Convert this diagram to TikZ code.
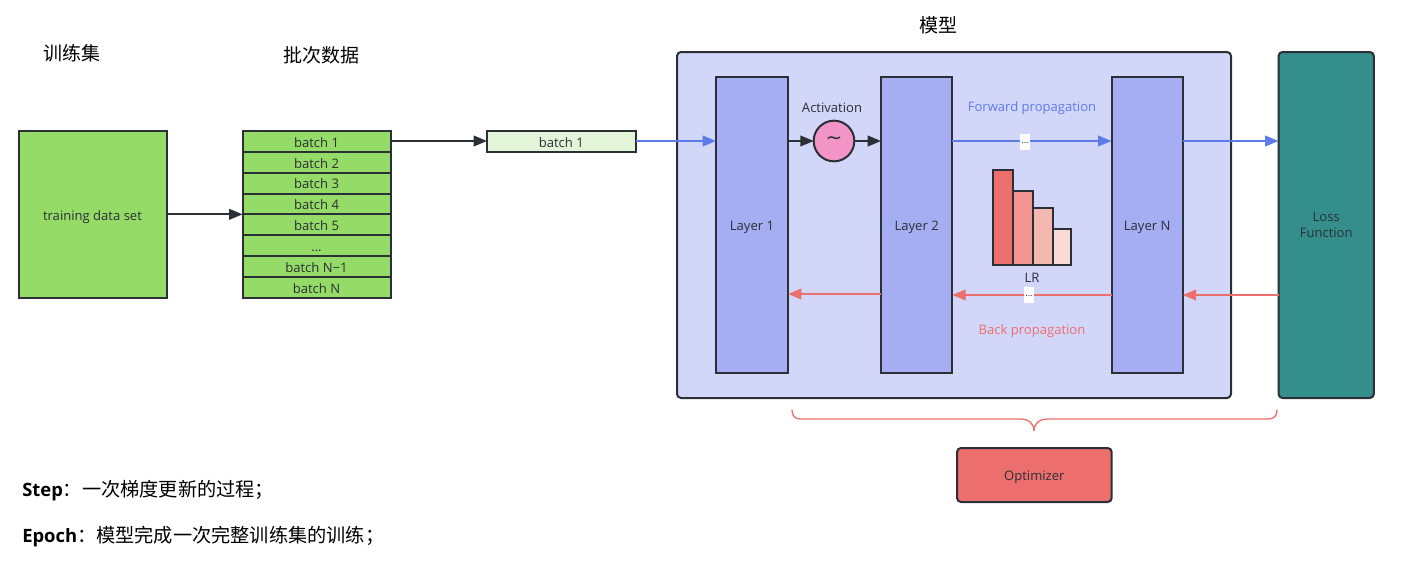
\documentclass[tikz,border=0pt]{standalone}
\usepackage{fontspec}
\setmainfont{Open Sans}
\newfontfamily\cjk{Noto Sans CJK SC}
\newfontfamily\sym{DejaVu Sans}
\usetikzlibrary{arrows.meta}
\definecolor{ink}{HTML}{2B2F36}
\definecolor{grn}{HTML}{95DB67}
\definecolor{lgrn}{HTML}{E3F5D8}
\definecolor{modelbg}{HTML}{D2D6F8}
\definecolor{layerc}{HTML}{A5AEF2}
\definecolor{tealc}{HTML}{338E8C}
\definecolor{pinkc}{HTML}{F295C6}
\definecolor{bluec}{HTML}{5E7CE8}
\definecolor{redc}{HTML}{EC6F6D}
\definecolor{bar2}{HTML}{F29490}
\definecolor{bar3}{HTML}{F5B8B1}
\definecolor{bar4}{HTML}{FBD9D4}
\newcommand\threedots{...}
\tikzset{
  x=0.75pt,y=-0.75pt,
  box/.style={draw=ink,line width=1.5pt,anchor=north west,inner sep=0pt,outer sep=0pt,text=ink,font=\fontsize{9.8}{12}\selectfont,align=center},
  tbox/.style={box,text height=8.6pt,text depth=0pt},
  rbox/.style={box,rounded corners=3pt},
  lab/.style={inner sep=0pt,font=\fontsize{9.8}{12}\selectfont,text=ink},
  title/.style={inner sep=0pt,font=\cjk\fontsize{14.25}{17}\selectfont,text=black},
  note/.style={inner sep=0pt,anchor=west,font=\fontsize{13.8}{17}\selectfont,text=black},
  bar/.style={box,line width=1.3pt},
  dots/.style={fill=white,inner sep=0pt,minimum width=7.5pt,minimum height=12pt,text=ink,font=\fontsize{7}{7}\selectfont},
  arr/.style={-{Triangle[length=10pt,width=8pt]},line width=1.3pt,ink},
  barr/.style={arr,bluec},
  rarr/.style={arr,redc},
}
\begin{document}
\begin{tikzpicture}
\useasboundingbox (0,0) rectangle (1404,571);
\node[title] (t1) at (72,53) {训练集};
\node[title] (t2) at (321,55) {批次数据};
\node[title] (t3) at (938,25) {模型};
\node[tbox,fill=grn,minimum width=111pt,minimum height=125pt] (train) at (18.5,131) {training data set};
\foreach \i/\t in {0/batch 1,1/batch 2,2/batch 3,3/batch 4,4/batch 5,5/\threedots,6/batch N−1,7/batch N}{
  \node[tbox,fill=grn,minimum width=111pt,minimum height=15.65pt] (r\i) at (242.5,{131+\i*20.87}) {\t};
}
\node[tbox,fill=lgrn,minimum width=111.5pt,minimum height=15.4pt] (single) at (487,131) {batch 1};
\node[rbox,fill=modelbg,minimum width=415.5pt,minimum height=259.5pt] (model) at (677,52) {};
\node[rbox,fill=tealc,minimum width=71.5pt,minimum height=259.5pt] (loss) at (1278.5,52) {\color{ink}Loss\\Function};
\node[tbox,fill=layerc,minimum width=54pt,minimum height=222pt] (l1) at (716,77) {Layer 1};
\node[tbox,fill=layerc,minimum width=53.5pt,minimum height=222pt] (l2) at (881,77) {Layer 2};
\node[tbox,fill=layerc,minimum width=53.5pt,minimum height=222pt] (ln) at (1111.5,77) {Layer N};
\node[draw=ink,line width=1.5pt,fill=pinkc,circle,minimum size=30.5pt,inner sep=0pt,outer sep=0pt,text=ink,font=\sym\fontsize{15}{15}\selectfont] (act) at (834,141) {∼};
\node[lab] (actl) at (832,108) {Activation};
\node[lab,text=bluec] (fwd) at (1032,108.5) {Forward propagation};
\node[lab,text=redc] (back) at (1032,331.5) {Back propagation};
\node[lab] (lr) at (1032,278) {LR};
\node[bar,fill=redc,minimum width=15pt,minimum height=71.25pt] (b1) at (993,170) {};
\node[bar,fill=bar2,minimum width=15pt,minimum height=55.5pt] (b2) at (1013,191) {};
\node[bar,fill=bar3,minimum width=15pt,minimum height=42.75pt] (b3) at (1033,208) {};
\node[bar,fill=bar4,minimum width=13.5pt,minimum height=27pt] (b4) at (1053,229) {};
\node[rbox,tbox,fill=redc,minimum width=116pt,minimum height=40.5pt] (opt) at (957,448) {Optimizer};
\coordinate (fy) at (0,141);
\coordinate (ry) at (0,295);
\coordinate (ry2) at (0,294);
\draw[arr] (train.east) -- (train.east -| r0.west);
\draw[arr] (r0.east |- fy) -- (single.west |- fy);
\draw[barr] (single.east |- fy) -- (l1.west |- fy);
\draw[arr] (l1.east |- act.west) -- (act.west);
\draw[arr] (act.east) -- (act.east -| l2.west);
\draw[barr] (l2.east |- fy) -- (ln.west |- fy);
\draw[barr] (ln.east |- fy) -- (loss.west |- fy);
\draw[rarr] (loss.west |- ry) -- (ln.east |- ry);
\draw[rarr] (ln.west |- ry) -- (l2.east |- ry);
\draw[rarr] (l2.west |- ry2) -- (l1.east |- ry2);
\node[dots] (d1) at (1025,142) {\raisebox{-3pt}{...}};
\node[dots] (d2) at (1029,295) {\raisebox{-3pt}{...}};
\draw[redc,line width=1pt,line cap=round] (792,410) .. controls (792,416) and (795,419) .. (801,419) -- (1021,419) .. controls (1028,419) and (1034,423) .. (1034,431) .. controls (1034,423) and (1040,419) .. (1047,419) -- (1268,419) .. controls (1274,419) and (1277,416) .. (1277,410);
\node[note] (step) at (22,491) {\textbf{Step}{\cjk\fontsize{14.4}{17}\selectfont：一次梯度更新的过程；}};
\node[note] (epoch) at (22,537) {\textbf{Epoch}{\cjk\fontsize{14.4}{17}\selectfont：模型完成一次完整训练集的训练；}};
\end{tikzpicture}
\end{document}
